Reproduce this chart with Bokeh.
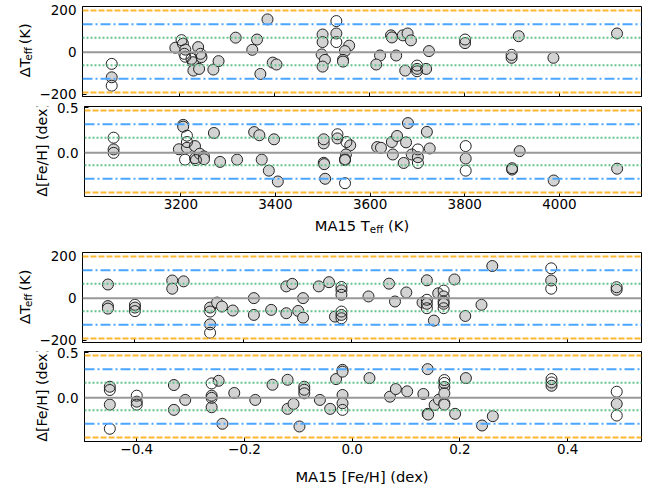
import math
from bokeh.plotting import figure
from bokeh.layouts import column, row
from bokeh.models import Span, FixedTicker, Range1d, CustomJSTickFormatter
from bokeh.core.properties import value
from bokeh.embed import file_html
from bokeh.resources import INLINE

# ---- Teff comparison: MA15 Teff vs. Delta Teff (K) ----
teff_fill_x = [3058, 3192, 3208, 3213, 3229, 3230, 3242, 3240, 3247, 3272, 3283, 3319,
               3354, 3364, 3371, 3386, 3397, 3405, 3502, 3502, 3500, 3507, 3502, 3531,
               3558, 3549, 3545, 3545, 3646, 3648, 3671, 3681, 3688, 3623, 3615, 3657,
               3676, 3701, 3720, 3726, 3802, 3900, 3915, 3988, 4122]
teff_fill_y = [-120, 21, 40, 12, -48, -88, -80, 24, -24, -83, -43, 69,
               11, 60, -104, 156, -50, -59, 84, 48, -11, -37, -69, 89,
               31, 5, -37, -45, 80, 70, 80, 89, 56, -16, -59, -16,
               -88, -80, -80, 5, 43, -27, 76, -27, 89]
teff_open_x = [3058, 3058, 3205, 3211, 3213, 3226, 3245, 3531, 3531, 3701, 3701, 3802, 3900]
teff_open_y = [-56, -160, 57, -8, -22, -32, -8, 148, 48, -64, -91, 60, -13]

# ---- [Fe/H] differences against MA15 Teff ----
feh_t_fill_x = [3058, 3205, 3205, 3196, 3213, 3230, 3230, 3240, 3249, 3249, 3270, 3283,
                3319, 3355, 3366, 3371, 3397, 3386, 3405, 3502, 3502, 3502, 3503, 3505,
                3531, 3558, 3549, 3547, 3615, 3623, 3646, 3657, 3648, 3671, 3676, 3680,
                3688, 3701, 3720, 3726, 3802, 3900, 3916, 3988, 4122]
feh_t_fill_y = [0.038, 0.31, 0.29, 0.04, 0.056, 0.075, -0.06, -0.01, -0.04, -0.07, 0.22, -0.10,
                -0.075, 0.23, 0.195, -0.075, 0.15, -0.197, -0.317, 0.105, 0.15, -0.11, -0.125, -0.287,
                0.16, 0.083, -0.018, -0.07, 0.064, 0.056, 0.12, 0.187, -0.018, -0.112, 0.116, 0.33,
                -0.018, -0.048, 0.232, 0.049, -0.063, -0.185, 0.019, -0.306, -0.175]
feh_t_open_x = [3058, 3058, 3213, 3213, 3209, 3232, 3531, 3550, 3547, 3547, 3701, 3701,
                3802, 3802, 3900]
feh_t_open_y = [0.168, 0.0, 0.19, 0.12, -0.075, -0.08, 0.206, 0.12, -0.08, -0.336, 0.038, -0.112,
                0.075, -0.197, -0.17]

# ---- Teff differences against MA15 [Fe/H] ----
teff_f_fill_x = [-0.45, -0.45, -0.45, -0.40, -0.331, -0.331, -0.31, -0.261, -0.261, -0.248,
                 -0.239, -0.219, -0.18, -0.18, -0.148, -0.12, -0.109, -0.12, -0.098, -0.089,
                 -0.089, -0.06, -0.041, -0.018, -0.018, -0.03, -0.018, 0.032, 0.07, 0.081,
                 0.102, 0.14, 0.132, 0.14, 0.153, 0.161, 0.171, 0.171, 0.191, 0.211,
                 0.241, 0.261, 0.37, 0.491]
teff_f_fill_y = [65, -38, -50, -45, 84, 45, 80, -45, -125, -21,
                 -40, -59, 0, -80, -56, 56, 68, -72, -61, -93,
                 0, 56, 76, 37, 16, -88, -80, 8, 69, -16,
                 27, 85, -21, -27, -107, 23, 8, -27, 89, -85,
                 -32, 153, 84, 40]
teff_f_open_x = [-0.40, -0.40, -0.261, -0.261, -0.018, -0.018, -0.018, 0.14, 0.14,
                 0.171, 0.171, 0.171, 0.37, 0.37, 0.491]
teff_f_open_y = [-32, -62, -64, -165, 53, -64, -96, -8, -48,
                 36, -16, -48, 142, 45, 52]

# ---- [Fe/H] comparison: MA15 [Fe/H] vs. Delta [Fe/H] ----
feh_fill_x = [-0.45, -0.45, -0.40, -0.331, -0.331, -0.31, -0.248, -0.261, -0.261, -0.241,
              -0.219, -0.18, -0.148, -0.12, -0.12, -0.109, -0.098, -0.089, -0.089, -0.06,
              -0.041, -0.03, -0.018, -0.018, -0.018, -0.018, 0.032, 0.07, 0.081, 0.102,
              0.14, 0.132, 0.14, 0.141, 0.153, 0.161, 0.171, 0.171, 0.171, 0.171,
              0.191, 0.211, 0.241, 0.261, 0.37, 0.491]
feh_fill_y = [0.123, -0.075, -0.042, 0.142, -0.133, -0.023, 0.189, 0.024, -0.104, -0.287,
              0.054, -0.023, 0.145, 0.2, -0.122, -0.067, -0.317, 0.123, 0.05, -0.023,
              -0.122, 0.208, 0.31, 0.29, 0.032, -0.06, 0.219, 0.013, 0.098, 0.072,
              0.318, 0.043, -0.177, -0.185, -0.078, -0.02, 0.12, 0.05, -0.06, -0.075,
              -0.177, 0.219, -0.306, -0.203, 0.134, -0.067]
feh_open_x = [-0.45, -0.45, -0.40, -0.40, -0.261, -0.261, -0.089, -0.018, 0.171, 0.171,
              0.37, 0.37, 0.491, 0.491]
feh_open_y = [0.087, -0.342, 0.024, -0.075, 0.16, 0.0, 0.09, -0.133, 0.197, 0.165,
              0.208, 0.17, 0.068, -0.196]

# offset and scatter of each difference; bands drawn at mean +/- 1, 2, 3 sigma
teff_mean, teff_sigma = 3.0, 65.0
feh_mean, feh_sigma = 0.015, 0.151

teff_ticks = [3200, 3400, 3600, 3800, 4000]
feh_ticks = [-0.4, -0.2, 0.0, 0.2, 0.4]
dteff_ticks = [-200, 0, 200]
dfeh_ticks = [0.0, 0.5]

FONT = "DejaVu Sans"
TICK_SIZE = "13.5px"
LAB = 14.7            # axis label font size in px
FEH_LAB = 14.2        # the long rotated [Fe/H] title
SUB = 10.3            # subscript font size in px
TOTAL_W = 649
FRAME_LEFT = 82
W_FRAME = 559
H_FRAME = 90
TEFF_STRIP = 36       # width of the strip holding a Delta Teff label
FEH_STRIP = 54        # width of the strip holding a Delta [Fe/H] label

band_styles = [
    (1, "#63C28D", "2 2"),
    (2, "#4BA6FF", "10 3 2 3"),
    (3, "#FFB733", "6 2"),
]

int_fmt = CustomJSTickFormatter(code="""
    const v = Math.round(tick);
    return (v < 0 ? '\u2212' : '') + Math.abs(v).toString();
""")
dec_fmt = CustomJSTickFormatter(code="""
    if (Math.abs(tick) < 1e-9) { return '0.0'; }
    return (tick < 0 ? '\u2212' : '') + Math.abs(tick).toFixed(1);
""")


def panel(strip_w, x_range, y_range, xticks, yticks, xfmt, yfmt, top, bottom,
          show_xlabels, mean, sigma):
    p = figure(width=TOTAL_W - strip_w, height=top + H_FRAME + bottom, title=None,
               x_range=x_range, y_range=y_range,
               output_backend="svg", toolbar_location=None,
               min_border_left=FRAME_LEFT - strip_w, min_border_right=8,
               min_border_top=top, min_border_bottom=bottom)
    p.grid.visible = False
    p.outline_line_color = "black"
    p.outline_line_width = 1
    p.outline_line_alpha = 1
    p.background_fill_color = "white"
    p.border_fill_color = "white"

    for ax, ticks, fmt in ((p.xaxis[0], xticks, xfmt), (p.yaxis[0], yticks, yfmt)):
        ax.ticker = FixedTicker(ticks=ticks)
        ax.formatter = fmt
        ax.major_tick_in = 4
        ax.major_tick_out = 0
        ax.minor_tick_in = 0
        ax.minor_tick_out = 0
        ax.major_tick_line_color = "black"
        ax.axis_line_color = "black"
        ax.major_label_text_font = FONT
        ax.major_label_text_font_size = TICK_SIZE
        ax.major_label_text_color = "black"
    p.yaxis.major_label_standoff = 6
    if show_xlabels:
        p.xaxis.major_label_standoff = 2
    else:
        # shared x axis: keep the inward ticks, no labels
        p.xaxis.major_label_text_font_size = "0px"
        p.xaxis.major_label_text_color = None
        p.xaxis.major_label_standoff = 0

    p.add_layout(Span(location=0, dimension="width", line_color="#999999", line_width=2))
    for k, color, dash in band_styles:
        for sign in (1, -1):
            p.add_layout(Span(location=mean + sign * k * sigma, dimension="width",
                              line_color=color, line_width=2, line_dash=dash))
    return p


def add_points(p, fx, fy, ox, oy):
    p.scatter(fx, fy, marker="circle", size=11, fill_color="#d3d3d3",
              line_color="#222222", line_width=1)
    p.scatter(ox, oy, marker="circle", size=11, fill_alpha=0,
              line_color="#222222", line_width=1)


def strip(w, h):
    """Blank figure whose frame spans its canvas, one unit per pixel, for axis titles."""
    s = figure(width=w, height=h, title=None, x_range=Range1d(0, w), y_range=Range1d(0, h),
               output_backend="svg", toolbar_location=None,
               x_axis_location=None, y_axis_location=None,
               min_border_left=0, min_border_right=0, min_border_top=0, min_border_bottom=0)
    s.grid.visible = False
    s.outline_line_color = None
    s.background_fill_color = "white"
    s.border_fill_color = "white"
    return s


def put(s, pieces, angle=0.0, align="left", baseline="alphabetic"):
    s.text(x=[q[0] for q in pieces], y=[q[1] for q in pieces], text=[q[2] for q in pieces],
           text_font_size=[f"{q[3]}px" for q in pieces], angle=angle,
           text_font=value(FONT), text_color="black",
           text_align=align, text_baseline=baseline)


def teff_ylabel_strip(h, yc):
    # rotated "ΔT" + subscript "eff" + "(K)", reading upwards, centred on the frame
    s = strip(TEFF_STRIP, h)
    w_main = 1.295 * LAB
    w_sub = 1.319 * SUB
    w_sp = 0.318 * LAB
    w_k = 1.436 * LAB
    y0 = yc - (w_main + w_sub + w_sp + w_k) / 2
    xc = 24
    put(s, [(xc, y0, "ΔT", LAB),
            (xc + 3, y0 + w_main, "eff", SUB),
            (xc, y0 + w_main + w_sub + w_sp, "(K)", LAB)],
        angle=math.pi / 2, baseline="middle")
    return s


def feh_ylabel_strip(h, yc):
    s = strip(FEH_STRIP, h)
    put(s, [(41.5, yc, "Δ[Fe/H] (dex)", FEH_LAB)],
        angle=math.pi / 2, align="center", baseline="middle")
    return s


teff_xr = Range1d(2996.5, 4173.5)
feh_xr = Range1d(-0.497, 0.537)
dteff_yr = (teff_mean - 3.3 * teff_sigma, teff_mean + 3.3 * teff_sigma)
dfeh_yr = (feh_mean - 3.3 * feh_sigma, feh_mean + 3.3 * feh_sigma)
frame_mid = FRAME_LEFT + W_FRAME / 2

# top pair: against MA15 Teff
p1 = panel(TEFF_STRIP, teff_xr, Range1d(*dteff_yr), teff_ticks, dteff_ticks,
           int_fmt, int_fmt, 6, 6, False, teff_mean, teff_sigma)
add_points(p1, teff_fill_x, teff_fill_y, teff_open_x, teff_open_y)

p2 = panel(FEH_STRIP, teff_xr, Range1d(*dfeh_yr), teff_ticks, dfeh_ticks,
           int_fmt, dec_fmt, 4, 18, True, feh_mean, feh_sigma)
add_points(p2, feh_t_fill_x, feh_t_fill_y, feh_t_open_x, feh_t_open_y)

# "MA15 Teff (K)" with subscript, below the second panel
xl1 = strip(TOTAL_W, 32)
w1 = 3.748 * LAB
w2 = 1.319 * SUB
wsp = 0.318 * LAB
wk = 1.436 * LAB
x0 = frame_mid - (w1 + w2 + wsp + wk) / 2
put(xl1, [(x0, 21, "MA15 T", LAB),
          (x0 + w1, 18, "eff", SUB),
          (x0 + w1 + w2 + wsp, 21, "(K)", LAB)])

# bottom pair: against MA15 [Fe/H]
p3 = panel(TEFF_STRIP, feh_xr, Range1d(*dteff_yr), feh_ticks, dteff_ticks,
           dec_fmt, int_fmt, 6, 5, False, teff_mean, teff_sigma)
add_points(p3, teff_f_fill_x, teff_f_fill_y, teff_f_open_x, teff_f_open_y)

p4 = panel(FEH_STRIP, feh_xr, Range1d(*dfeh_yr), feh_ticks, dfeh_ticks,
           dec_fmt, dec_fmt, 4, 18, True, feh_mean, feh_sigma)
add_points(p4, feh_fill_x, feh_fill_y, feh_open_x, feh_open_y)

xl2 = strip(TOTAL_W, 25)
put(xl2, [(frame_mid, 8.5, "MA15 [Fe/H] (dex)", LAB)], align="center")

layout = column(
    row(teff_ylabel_strip(102, 6 + H_FRAME / 2), p1, spacing=0),
    row(feh_ylabel_strip(112, 18 + H_FRAME / 2 - 5), p2, spacing=0),
    xl1,
    row(teff_ylabel_strip(101, 5 + H_FRAME / 2), p3, spacing=0),
    row(feh_ylabel_strip(112, 18 + H_FRAME / 2 - 5), p4, spacing=0),
    xl2,
    spacing=0,
)
open("out.html", "w").write(file_html(layout, INLINE))
